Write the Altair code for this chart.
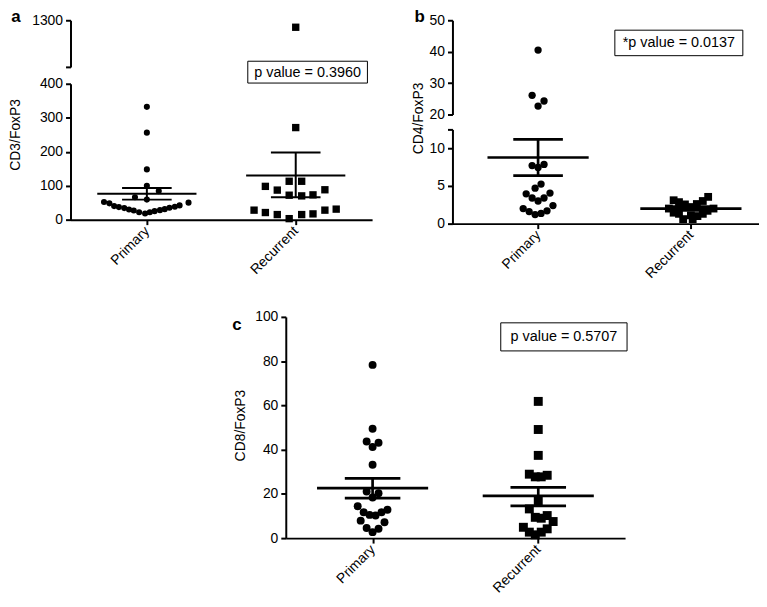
import altair as alt
import pandas as pd

FONT = "Liberation Sans"
CATS = ["Primary", "Recurrent"]

# ---------------- panel a : CD3/FoxP3 (broken axis 0-400 / 1100-1300) ----------------
a_pri_val = [332, 256, 148, 100, 84, 66, 59,
             52, 48, 40, 37, 34, 30, 27, 22, 18, 22, 25, 28, 31, 35, 38, 42, 50]
a_pri_dx = [0, 0, 0, 0, 2, -2, 0,
            -7.2, -6.3, -5.5, -4.7, -3.8, -3.0, -2.2, -1.3, -0.3, 0.5, 1.3, 2.2, 3.0, 3.8, 4.7, 5.5, 7.0]
a_rec_val = [1270, 271, 113, 113, 98, 87, 88, 72, 70, 73, 28, 21, 15, 3, 15, 17, 28, 31]
a_rec_dx = [0, 0, -1.1, 1.0, -5.1, -3.1, 4.9, -1.1, 1.0, 2.9, -7.0, -5.1, -3.1, -1.1, 1.0, 2.9, 4.9, 6.8]
a_mean = [76, 130]
a_sem_lo = [59, 66]
a_sem_hi = [93, 198]
a_ptext = "p value = 0.3960"

# ---------------- panel b : CD4/FoxP3 (broken axis 0-12.5 / 20-50) ----------------
b_pri_val = [40.5, 26.1, 22.7, 24.3, 7.7, 7.45, 7.85, 5.25, 4.7, 3.95, 3.4, 3.0, 3.4, 4.05,
             2.0, 1.6, 1.2, 1.35, 1.7, 2.4]
b_pri_dx = [0, -1, 0, 1, -1, 0, 1, 0.5, -0.5, -2, -1, 0, 1, 2, -2.5, -1.5, -0.5, 0.5, 1.5, 2.5]
b_rec_val = [2.0, 3.1, 1.45, 2.85, 1.3, 0.6, 2.55, 2.2, 1.1, 0.6, 2.6, 1.0, 3.0, 1.3, 3.55, 1.7, 2.0]
b_rec_dx = [-3.7, -2.9, -2.9, -2.0, -2.0, -1.3, -1.0, 0, 0, 0.3, 1.0, 1.1, 2.0, 2.0, 2.9, 2.8, 3.8]
b_mean = [8.77, 2.0]
b_sem_lo = [6.36, 1.75]
b_sem_hi = [11.18, 2.25]
b_ptext = "*p value = 0.0137"

# ---------------- panel c : CD8/FoxP3 ----------------
c_pri_val = [78.3, 49.4, 43.7, 41.2, 43.1, 33.2, 21.1, 18.4, 20.3, 14.4, 11.7, 10.5, 10.2, 11.7,
             12.8, 7.9, 7.2, 4.6, 2.7, 4.2]
c_pri_dx = [0, 0, -1, 0, 1, 0, -1, 0, 1, -2.5, -1.5, -0.5, 0.5, 1.5, 2.5, -2, 2, -1, 0, 1]
c_rec_val = [61.8, 49.1, 37.4, 28.9, 27.7, 27.7, 28.4, 16.9, 13.2, 9.4, 9.0, 10.2, 7.5, 4.9,
             2.7, 1.5, 2.7, 4.2]
c_rec_dx = [0, 0, 0, -1.5, -0.5, 0.5, 1.5, 0, -1.5, -0.5, 0.5, 1.5, 2.5, -2.5, -1.5, -0.5, 0.5, 1.5]
c_mean = [22.6, 19.1]
c_sem_lo = [18.1, 14.6]
c_sem_hi = [27.0, 22.9]
c_ptext = "p value = 0.5707"


def points_frame(pv, pdx, rv, rdx):
    return pd.DataFrame({
        "group": ["Primary"] * len(pv) + ["Recurrent"] * len(rv),
        "value": pv + rv,
        "dx": pdx + rdx,
    })


def summary_frame(mean, lo, hi):
    return pd.DataFrame({"group": CATS, "mean": mean, "lo": lo, "hi": hi})


def letter_layer(letter, x, y, size=17):
    return alt.Chart(pd.DataFrame({"t": [letter]})).mark_text(
        font=FONT, fontSize=size, fontWeight="bold", align="left", baseline="alphabetic", color="black"
    ).encode(x=alt.value(x), y=alt.value(y), text="t:N")


def pbox_layers(label, x1, x2, y1, y2):
    box = alt.Chart(pd.DataFrame({"t": [label]})).mark_rect(
        fill="white", stroke="black", strokeWidth=1
    ).encode(x=alt.value(x1), x2=alt.value(x2), y=alt.value(y1), y2=alt.value(y2))
    txt = alt.Chart(pd.DataFrame({"t": [label]})).mark_text(
        font=FONT, fontSize=14.5, align="center", baseline="middle", color="black"
    ).encode(x=alt.value((x1 + x2) / 2), y=alt.value((y1 + y2) / 2 + 0.5), text="t:N")
    return [box, txt]


def segment(pts, summ, *, lo, hi, width, height, pad, align, unit, sizes, lw,
            mean_len, cap_len, yaxis, xaxis, with_summary, extra=()):
    xs = alt.Scale(type="point", domain=CATS, padding=pad, align=align)
    ys = alt.Scale(domain=[lo, hi], nice=False, zero=False)
    xe = alt.X("group:N", scale=xs, axis=xaxis)
    offs = alt.XOffset("dx:Q", scale=alt.Scale(domain=[-1, 1], range=[-unit, unit]))
    layers = []
    if with_summary:
        base = alt.Chart(summ)
        layers += [
            base.mark_rule(color="black", strokeWidth=lw).encode(
                x=xe, y=alt.Y("lo:Q", scale=ys, axis=yaxis), y2="hi:Q"),
            base.mark_tick(color="black", thickness=lw, size=mean_len, opacity=1).encode(
                x=xe, y=alt.Y("mean:Q", scale=ys, axis=yaxis)),
            base.mark_tick(color="black", thickness=lw, size=cap_len, opacity=1).encode(
                x=xe, y=alt.Y("lo:Q", scale=ys, axis=yaxis)),
            base.mark_tick(color="black", thickness=lw, size=cap_len, opacity=1).encode(
                x=xe, y=alt.Y("hi:Q", scale=ys, axis=yaxis)),
        ]
    flt = f"datum.value >= {lo} && datum.value <= {hi}"
    for grp, shape, size in zip(CATS, ["circle", "square"], sizes):
        layers.append(
            alt.Chart(pts).transform_filter(flt).transform_filter(alt.datum.group == grp)
            .mark_point(shape=shape, size=size, filled=True, color="black", opacity=1, strokeWidth=0)
            .encode(x=xe, xOffset=offs, y=alt.Y("value:Q", scale=ys, axis=yaxis))
        )
    layers += list(extra)
    return alt.layer(*layers).properties(width=width, height=height)


xaxis_bottom = alt.Axis(title=None, labelAngle=-45, labelAlign="right", labelBaseline="middle",
                        labelPadding=4)

# ---- panel a
a_pts = points_frame(a_pri_val, a_pri_dx, a_rec_val, a_rec_dx)
a_sum = summary_frame(a_mean, a_sem_lo, a_sem_hi)
a_common = dict(width=304, pad=0.513, align=0.5, unit=6, sizes=[38, 55], lw=2,
                mean_len=100, cap_len=50)
a_top = segment(a_pts, a_sum, lo=1100, hi=1300, height=47,
                yaxis=alt.Axis(values=[1100, 1300], format="d",
                               labelExpr="datum.value == 1100 ? '' : datum.label", title=None),
                xaxis=None, with_summary=False,
                extra=[letter_layer("a", -59.7, 1.3)], **a_common)
a_bot = segment(a_pts, a_sum, lo=0, hi=400, height=137,
                yaxis=alt.Axis(values=[0, 100, 200, 300, 400], format="d", title="CD3/FoxP3",
                               titleX=-55, titleY=51, titleBaseline="middle"),
                xaxis=xaxis_bottom, with_summary=True,
                extra=pbox_layers(a_ptext, 178.7, 299.3, -22.7, -0.7), **a_common)
panel_a = alt.vconcat(a_top, a_bot, spacing=17, bounds="flush")

# ---- panel b
b_pts = points_frame(b_pri_val, b_pri_dx, b_rec_val, b_rec_dx)
b_sum = summary_frame(b_mean, b_sem_lo, b_sem_hi)
b_common = dict(width=309, pad=0.503, align=0.557, unit=12.3, sizes=[54, 62], lw=2.7,
                mean_len=102, cap_len=50)
b_top = segment(b_pts, b_sum, lo=20, hi=50, height=95,
                yaxis=alt.Axis(values=[20, 30, 40, 50], format="d", title=None),
                xaxis=None, with_summary=False,
                extra=[letter_layer("b", -38.3, 1.3)] + pbox_layers(b_ptext, 163.7, 292.7, 10, 35.7),
                **b_common)
b_bot = segment(b_pts, b_sum, lo=0, hi=12.5, height=95,
                yaxis=alt.Axis(values=[0, 5, 10, 12.5], format="d",
                               labelExpr="datum.value == 12.5 ? '' : datum.label",
                               title="CD4/FoxP3", titleX=-34, titleY=-11.5, titleBaseline="middle"),
                xaxis=xaxis_bottom, with_summary=True, **b_common)
panel_b = alt.vconcat(b_top, b_bot, spacing=15, bounds="flush")

# ---- panel c
c_pts = points_frame(c_pri_val, c_pri_dx, c_rec_val, c_rec_dx)
c_sum = summary_frame(c_mean, c_sem_lo, c_sem_hi)
panel_c = segment(c_pts, c_sum, lo=0, hi=100, width=342, height=223, pad=0.524, align=0.5,
                  unit=13.3, sizes=[64, 81], lw=2.7, mean_len=112, cap_len=56,
                  yaxis=alt.Axis(values=[0, 20, 40, 60, 80, 100], format="d", title="CD8/FoxP3",
                                 titleX=-45.5, titleY=109, titleBaseline="middle"),
                  xaxis=xaxis_bottom, with_summary=True,
                  extra=[letter_layer("c", -54, 13.3)] + pbox_layers(c_ptext, 216.7, 344, 6, 34.3))

spacer = alt.Chart(pd.DataFrame({"s": [0]})).mark_rule(opacity=0).encode(
    x=alt.value(0), x2=alt.value(1), y=alt.value(0)).properties(width=1, height=1)

row1 = alt.hconcat(panel_a, panel_b, spacing=40)
row2 = alt.hconcat(spacer, panel_c, spacing=162)

chart = alt.vconcat(row1, row2, spacing=29).properties(
    padding={"left": 0, "top": -3, "right": 0, "bottom": 0}
).configure_view(strokeWidth=0).configure_axis(
    domainColor="black", domainWidth=2, tickColor="black", tickWidth=2, tickSize=5,
    labelColor="black", labelFont=FONT, labelFontSize=14, titleFont=FONT, titleFontSize=14,
    titleFontWeight="normal", titleColor="black", grid=False, labelPadding=3
)

chart.save("out.html", embed_options={"renderer": "svg", "actions": False})
